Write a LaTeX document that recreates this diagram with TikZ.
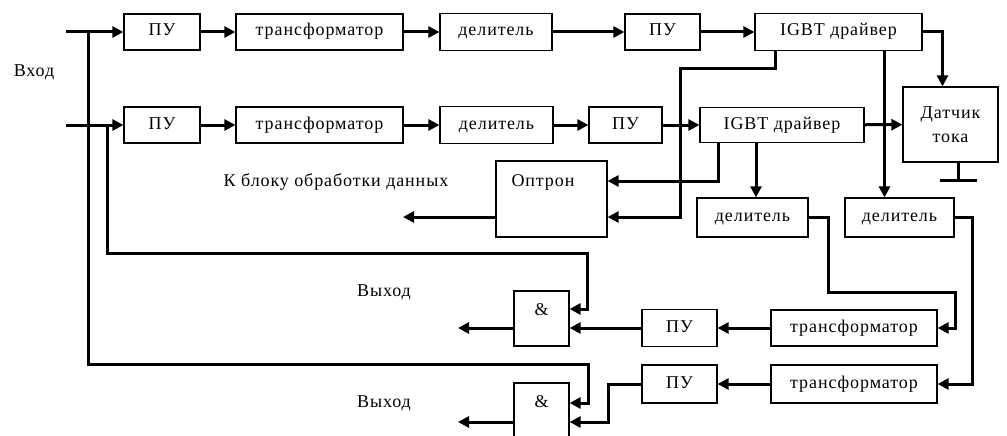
\documentclass[tikz,border=0pt]{standalone}
\usepackage{fontspec}
\setmainfont{Liberation Serif}[LetterSpace=5]
\usetikzlibrary{arrows.meta,positioning,calc}
\tikzset{blk/.style={draw,line width=1.2pt,inner sep=0pt,text height=12pt,text depth=4pt,font=\fontsize{18}{21}\selectfont},wire/.style={line width=3pt},arr/.style={wire,-{Triangle[length=11pt,width=11pt]}},lbl/.style={inner sep=0pt,font=\fontsize{18}{21}\selectfont},every picture/.style={line cap=rect}}

\begin{document}
\begin{tikzpicture}[x=1pt,y=-1pt]
\useasboundingbox (0,0) rectangle (1007,436);
\clip (0,0) rectangle (1007,436);
% upper channel
\node[blk,minimum width=76,minimum height=36] (pu1) at (162,32) {ПУ};
\node[blk,minimum width=167,minimum height=36] (tr1) at (319.5,32) {трансформатор};
\node[blk,minimum width=112,minimum height=37] (del1) at (496,32) {делитель};
\node[blk,minimum width=75,minimum height=36] (pu3) at (662.5,32) {ПУ};
\node[blk,minimum width=167,minimum height=37] (igbt1) at (838.5,32) {IGBT драйвер};
% lower channel
\node[blk,minimum width=76,minimum height=36] (pu2) at (162,125) {ПУ};
\node[blk,minimum width=167,minimum height=36] (tr2) at (319.5,125) {трансформатор};
\node[blk,minimum width=113,minimum height=37] (del2) at (496.5,125) {делитель};
\node[blk,minimum width=73,minimum height=36] (pu4) at (625.5,125) {ПУ};
\node[blk,minimum width=164,minimum height=35] (igbt2) at (782,125) {IGBT драйвер};
\node[blk,minimum width=95,minimum height=75,align=center,text height=,text depth=] (sensor) at (950.5,124.5) {Датчик\\[3pt]тока};
% feedback
\node[blk,minimum width=111,minimum height=76] (opto) at (551.5,199) {};
\node[lbl] (optotxt) at (543,182) {Оптрон};
\node[blk,minimum width=111,minimum height=39] (del3) at (752.5,217.5) {делитель};
\node[blk,minimum width=109,minimum height=39] (del4) at (899.5,217.5) {делитель};
\node[blk,minimum width=166,minimum height=36] (tr3) at (854,328) {трансформатор};
\node[blk,minimum width=166,minimum height=38] (tr4) at (854,384) {трансформатор};
\node[blk,minimum width=75,minimum height=37] (pu5) at (679.5,328) {ПУ};
\node[blk,minimum width=75,minimum height=38] (pu6) at (679.5,384) {ПУ};
\node[blk,minimum width=55,minimum height=55,label={[lbl,anchor=north,yshift=-13pt]north:\&}] (and1) at (541.5,318.5) {};
\node[blk,minimum width=55,minimum height=57,label={[lbl,anchor=north,yshift=-13pt]north:\&}] (and2) at (541.5,411.5) {};
% texts
\node[lbl] (vhod) at (34,72) {Вход};
\node[lbl] (kbloku) at (336,182) {К блоку обработки данных};
\node[lbl] (vyhod1) at (384,292) {Выход};
\node[lbl] (vyhod2) at (384,403) {Выход};
% ends
\coordinate (in1) at (67,32);
\coordinate (in2) at (67,125);
\coordinate (j1) at (88,32);
\coordinate (j2) at (107,125);
\coordinate (out1) at (458,328);
\coordinate (out2) at (458,422);
\coordinate (outd) at (403,217);
% forward paths
\draw[arr] (in1) -- (pu1);
\draw[arr] (pu1) -- (tr1);
\draw[arr] (tr1) -- (del1);
\draw[arr] (del1) -- (pu3);
\draw[arr] (pu3) -- (igbt1);
\draw[arr] (in2) -- (pu2);
\draw[arr] (pu2) -- (tr2);
\draw[arr] (tr2) -- (del2);
\draw[arr] (del2) -- (pu4);
\draw[arr] (pu4) -- (igbt2);
\draw[arr] (igbt2) -- (sensor);
\draw[arr] (igbt1.east) -| ([xshift=-8pt]sensor.north);
\draw[wire] ([xshift=7.5pt]sensor.south) -- ++(0,18) coordinate (gnd);
\draw[wire] ([xshift=-17pt]gnd) -- ([xshift=17pt]gnd);
% to optocoupler
\draw[arr] ([xshift=-63.5pt]igbt1.south) |- (680,69) |- ([yshift=-18pt]opto.east);
\draw[arr] ([xshift=-64pt]igbt2.south) |- ([yshift=18pt]opto.east);
\draw[arr] ([yshift=-18pt]opto.west) -- (outd);
% dividers and back path
\draw[arr] ([xshift=-26pt]igbt2.south) -- ([xshift=-26pt]igbt2.south |- del3.north);
\draw[arr] ([xshift=46pt]igbt1.south) -- ([xshift=46pt]igbt1.south |- del4.north);
\draw[arr] (del3.east) -| (828,292) -- (955,292) |- (tr3.east);
\draw[arr] (del4.east) -| ([xshift=35pt]tr4.east) -- (tr4.east);
\draw[arr] (tr3) -- (pu5);
\draw[arr] (tr4) -- (pu6);
\draw[arr] (pu5.west) -- (pu5.west -| and1.east);
\draw[arr] (pu6.west) -| ([xshift=39pt,yshift=-10.5pt]and2.east) -- ([yshift=-10.5pt]and2.east);
% input branches to AND
\draw[arr] (j1) |- (588,364) |- ([yshift=8.5pt]and2.east);
\draw[arr] (j2) |- (587,253) |- ([yshift=9.5pt]and1.east);
\draw[arr] ([yshift=-9.5pt]and1.west) -- (out1);
\draw[arr] ([yshift=-10.5pt]and2.west) -- (out2);
\end{tikzpicture}
\end{document}
